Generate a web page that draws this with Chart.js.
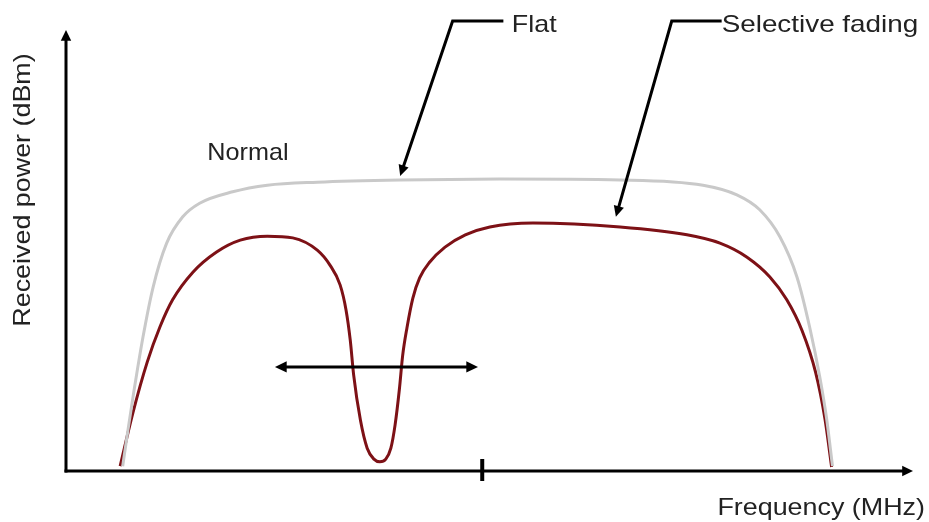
<!DOCTYPE html>
<html>
<head>
<meta charset="utf-8">
<script src="https://cdn.jsdelivr.net/npm/chart.js@4"></script>
<style>
  html, body { margin: 0; padding: 0; background: #fff; }
  #wrap { width: 929px; height: 522px; }
</style>
</head>
<body>
<div id="wrap"><canvas id="fadingChart"></canvas></div>
<script>
// Curve data (arbitrary frequency units / arbitrary power units)
const normalFreq  = [0.67, 0.73, 0.79, 0.91, 1.03, 1.19, 1.38, 1.58, 1.97, 2.38, 2.97, 3.95, 5.13, 6.55, 7.53, 7.93, 8.20, 8.44, 8.64, 8.79, 8.91, 8.99, 9.06];
const normalPower = [0.11, 0.90, 1.66, 3.05, 4.19, 5.19, 5.79, 6.10, 6.36, 6.51, 6.58, 6.63, 6.65, 6.63, 6.51, 6.29, 5.95, 5.33, 4.42, 3.28, 2.14, 1.20, 0.11];

const fadingFreq  = [0.64, 0.79, 0.96, 1.11, 1.26, 1.50, 1.78, 2.06, 2.38, 2.68, 2.97, 3.12, 3.24, 3.31, 3.36, 3.40, 3.48, 3.56, 3.64, 3.71, 3.78, 3.84, 3.89, 3.94, 3.98, 4.03, 4.10, 4.18, 4.30, 4.48, 4.72, 5.01, 5.52, 6.55, 7.34, 7.73, 8.05, 8.32, 8.52, 8.70, 8.86, 8.97, 9.05];
const fadingPower = [0.11, 1.32, 2.48, 3.28, 3.90, 4.53, 4.99, 5.26, 5.35, 5.31, 5.03, 4.69, 4.24, 3.67, 2.98, 2.19, 1.16, 0.52, 0.27, 0.21, 0.27, 0.52, 1.05, 1.85, 2.64, 3.26, 3.94, 4.40, 4.76, 5.10, 5.38, 5.56, 5.65, 5.56, 5.38, 5.19, 4.87, 4.42, 3.90, 3.20, 2.25, 1.20, 0.09];

const centerFreq = 4.92;          // tick mark on the frequency axis
const sweepRange = [2.47, 4.87];  // double-headed arrow
const sweepLevel = 2.37;

const textColor = "#222";
const textFont = "24px 'Liberation Sans', Arial, sans-serif";

function toPoints(xs, ys) {
  return xs.map((x, i) => ({ x: x, y: ys[i] }));
}

function arrowHead(ctx, x1, y1, x2, y2, size) {
  const a = Math.atan2(y2 - y1, x2 - x1);
  ctx.beginPath();
  ctx.moveTo(x2, y2);
  ctx.lineTo(x2 - size * Math.cos(a - 0.45), y2 - size * Math.sin(a - 0.45));
  ctx.lineTo(x2 - size * Math.cos(a + 0.45), y2 - size * Math.sin(a + 0.45));
  ctx.closePath();
  ctx.fill();
}

function stretchedText(ctx, text, x, y, align, sx) {
  ctx.save();
  ctx.translate(x, y);
  ctx.scale(sx, 1);
  ctx.textAlign = align;
  ctx.fillText(text, 0, 0);
  ctx.restore();
}

// Axes with arrows, tick, annotations
const sketchPlugin = {
  id: "sketch",
  afterDatasetsDraw(chart) {
    const { ctx, chartArea, scales } = chart;
    const xs = scales.x, ys = scales.y;
    const X = (v) => xs.getPixelForValue(v);
    const Y = (v) => ys.getPixelForValue(v);

    ctx.save();
    ctx.strokeStyle = "#000";
    ctx.fillStyle = "#000";
    ctx.lineWidth = 3;
    ctx.lineCap = "butt";

    // y axis
    ctx.beginPath();
    ctx.moveTo(chartArea.left, chartArea.bottom + 1.5);
    ctx.lineTo(chartArea.left, chartArea.top + 8);
    ctx.stroke();
    arrowHead(ctx, chartArea.left, chartArea.bottom, chartArea.left, chartArea.top - 2, 12);

    // x axis
    ctx.beginPath();
    ctx.moveTo(chartArea.left - 1.5, chartArea.bottom);
    ctx.lineTo(chartArea.right - 8, chartArea.bottom);
    ctx.stroke();
    arrowHead(ctx, chartArea.left, chartArea.bottom, chartArea.right + 1, chartArea.bottom, 12);

    // center tick
    ctx.lineWidth = 4;
    ctx.beginPath();
    ctx.moveTo(X(centerFreq), Y(0) - 12);
    ctx.lineTo(X(centerFreq), Y(0) + 10);
    ctx.stroke();

    // double-headed arrow
    ctx.lineWidth = 3;
    const ya = Y(sweepLevel);
    ctx.beginPath();
    ctx.moveTo(X(sweepRange[0]) + 8, ya);
    ctx.lineTo(X(sweepRange[1]) - 8, ya);
    ctx.stroke();
    arrowHead(ctx, X(sweepRange[1]), ya, X(sweepRange[0]), ya, 13);
    arrowHead(ctx, X(sweepRange[0]), ya, X(sweepRange[1]), ya, 13);

    // callout arrows
    const callouts = [
      { from: [5.17, 10.25], knee: [4.57, 10.25], tip: [3.95, 6.72] },
      { from: [7.75, 10.25], knee: [7.16, 10.25], tip: [6.50, 5.79] },
    ];
    callouts.forEach((c) => {
      const kx = X(c.knee[0]), ky = Y(c.knee[1]);
      const tx = X(c.tip[0]), ty = Y(c.tip[1]);
      const a = Math.atan2(ty - ky, tx - kx);
      ctx.beginPath();
      ctx.moveTo(X(c.from[0]), Y(c.from[1]));
      ctx.lineTo(kx, ky);
      ctx.lineTo(tx - 8 * Math.cos(a), ty - 8 * Math.sin(a));
      ctx.stroke();
      arrowHead(ctx, kx, ky, tx, ty, 12);
    });

    // texts
    ctx.fillStyle = textColor;
    ctx.font = textFont;
    ctx.textBaseline = "middle";
    stretchedText(ctx, "Normal", X(2.15), Y(7.24), "center", 1.05);
    stretchedText(ctx, "Flat", X(5.27), Y(10.16), "left", 1.12);
    stretchedText(ctx, "Selective fading", X(7.75), Y(10.16), "left", 1.16);
    stretchedText(ctx, "Frequency (MHz)", 925, 508, "right", 1.12);

    ctx.save();
    ctx.translate(23, 190);
    ctx.rotate(-Math.PI / 2);
    ctx.scale(1.12, 1);
    ctx.textAlign = "center";
    ctx.fillText("Received power (dBm)", 0, 0);
    ctx.restore();

    ctx.restore();
  },
};

new Chart(document.getElementById("fadingChart"), {
  type: "line",
  data: {
    datasets: [
      {
        label: "Normal",
        data: toPoints(normalFreq, normalPower),
        borderColor: "#c9c9c9",
        borderWidth: 3,
        pointRadius: 0,
        cubicInterpolationMode: "monotone",
      },
      {
        label: "Selective fading",
        data: toPoints(fadingFreq, fadingPower),
        borderColor: "#7d1116",
        borderWidth: 3,
        pointRadius: 0,
        cubicInterpolationMode: "monotone",
      },
    ],
  },
  options: {
    responsive: true,
    maintainAspectRatio: false,
    animation: false,
    layout: { padding: { left: 66, right: 17, top: 32, bottom: 51 } },
    scales: {
      x: { type: "linear", min: 0, max: 10, display: false },
      y: { min: 0, max: 10, display: false },
    },
    plugins: {
      legend: { display: false },
      tooltip: { enabled: false },
    },
  },
  plugins: [sketchPlugin],
});
</script>
</body>
</html>
